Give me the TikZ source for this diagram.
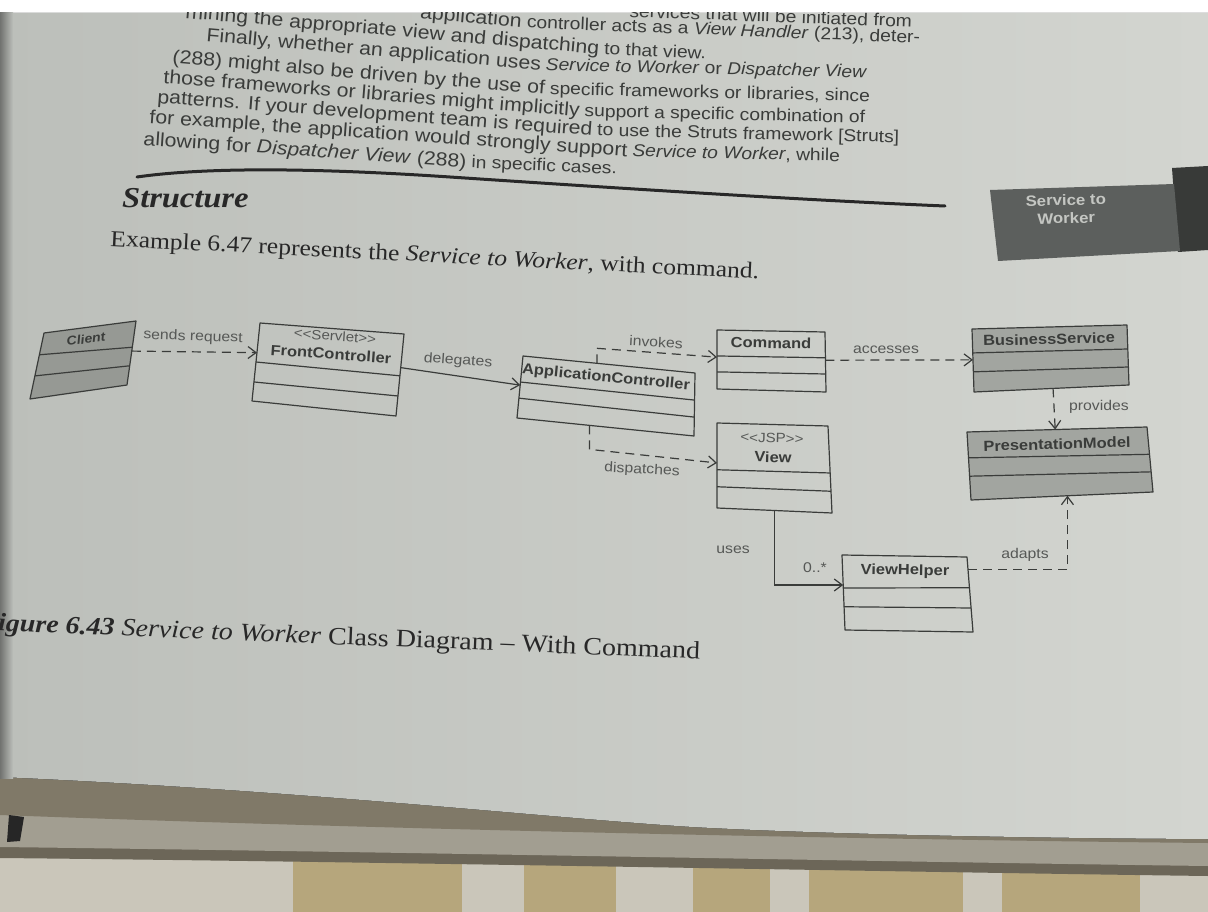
\documentclass[tikz,border=0pt]{standalone}
\usepackage{fontspec}
\setmainfont{Liberation Serif}[FakeStretch=1.12]
\setsansfont{Liberation Sans}[FakeStretch=1.12]
\usetikzlibrary{arrows.meta,calc}

\definecolor{paperL}{RGB}{188,191,186}
\definecolor{paperR}{RGB}{211,213,208}
\definecolor{ink}{RGB}{58,60,58}
\definecolor{inkSoft}{RGB}{86,88,86}
\definecolor{heading}{RGB}{40,40,40}
\definecolor{classGrey}{RGB}{162,165,160}
\definecolor{classGreyDark}{RGB}{150,153,148}
\definecolor{tabGrey}{RGB}{92,95,93}
\definecolor{tabDark}{RGB}{56,58,56}
\definecolor{tabText}{RGB}{196,198,194}
\definecolor{bookEdge}{RGB}{128,121,104}
\definecolor{ridge}{RGB}{162,158,145}
\definecolor{shadowLine}{RGB}{108,102,88}
\definecolor{deskLight}{RGB}{202,198,186}
\definecolor{deskYellow}{RGB}{182,166,124}

% a UML class drawn as a four-cornered outline (the page is photographed in perspective)
\newcommand{\classbox}[6]{%
  \coordinate (#1-tl) at (#2);
  \coordinate (#1-tr) at (#3);
  \coordinate (#1-br) at (#4);
  \coordinate (#1-bl) at (#5);
  \filldraw[classedge, fill=#6] (#1-tl) -- (#1-tr) -- (#1-br) -- (#1-bl) -- cycle;}
% compartment separator, given as fractions down the left and right sides
\newcommand{\compsep}[3]{%
  \draw[classedge] ($(#1-tl)!#2!(#1-bl)$) -- ($(#1-tr)!#3!(#1-br)$);}
\newcommand{\wordgap}{\hspace*{0.28em}}

\tikzset{
  classedge/.style={draw=ink, line width=1.2pt, line join=round},
  conn/.style={draw=ink, line width=1.2pt},
  dep/.style={conn, dash pattern=on 9pt off 6pt},
  openhead/.style={-{Straight Barb[length=8pt,width=12pt]}},
  clsname/.style={font=\sffamily\bfseries\fontsize{14.7}{16}\selectfont, text=ink, inner sep=0},
  stereo/.style={font=\sffamily\fontsize{13.5}{16}\selectfont, text=inkSoft, inner sep=0},
  connlabel/.style={font=\sffamily\fontsize{14.1}{16}\selectfont, text=inkSoft, inner sep=0},
  % the near half of each text line is larger and steeper than the far half
  bodyleft/.style={font=\sffamily\fontsize{19}{22}\selectfont, text=ink, inner sep=0, anchor=base west},
  bodyright/.style={font=\sffamily\fontsize{17.2}{20}\selectfont, text=ink, inner sep=0, anchor=base west},
}

\begin{document}
\begin{tikzpicture}[x=1pt, y=-1pt]
\useasboundingbox (0,0) rectangle (1208,912);
\fill[white] (0,0) rectangle (1208,912);

% desk below the book
\fill[deskLight] (0,830) rectangle (1208,912);
\foreach \a/\b in {293/462, 524/616, 693/770, 809/963, 1002/1140}
  \fill[deskYellow] (\a,830) rectangle (\b,912);

% edge of the book block
\fill[shadowLine] (0,770) -- (1208,770) -- (1208,876) .. controls (900,872) and (400,862) .. (0,858) -- cycle;
\fill[ridge] (0,770) -- (1208,770) -- (1208,866) .. controls (900,862) and (400,852) .. (0,847) -- cycle;
\fill[bookEdge] (0,770) -- (1208,770) -- (1208,843) .. controls (900,840) and (400,830) .. (0,815) -- cycle;
\fill[black!85] (9,815) -- (24,817) -- (20,841) -- (7,842) -- cycle;

% the page
\fill[left color=paperL, right color=paperR] (0,13) -- (1208,13) -- (1208,839)
  .. controls (1000,838) and (800,833) .. (693,827)
  .. controls (550,818) and (300,790) .. (0,777) -- cycle;
\fill[left color=black!40!paperL, right color=paperL] (0,13) rectangle (13,778);

% running text at the top of the page
\begin{scope}
\clip (0,13) rectangle (1208,780);
\node[bodyright, anchor=base east, rotate=-2] (r1b) at (912,27) {services that will be initiated from};
\node[bodyright, anchor=base east, rotate=-2.2] (r2b) at (920,43) {controller acts as a \textit{View Handler} (213), deter-};
\node[bodyleft, anchor=base east, rotate=-5] (r2a) at (r2b.base west) {application\wordgap};
\node[bodyleft, rotate=-5] (r3a) at (185,18) {mining the appropriate view and dispatching};
\node[bodyright, rotate=-2.5] (r3b) at (r3a.base east) {\wordgap to that view.};
\node[bodyleft, rotate=-5] (r4a) at (206,41) {Finally, whether an application uses};
\node[bodyright, rotate=-1.3] (r4b) at (r4a.base east) {\wordgap\textit{Service to Worker} or \textit{Dispatcher View}};
\node[bodyleft, rotate=-4.8] (r5a) at (172,63) {(288) might also be driven by the use of};
\node[bodyright, rotate=-1.3] (r5b) at (r5a.base east) {\wordgap specific frameworks or libraries, since};
\node[bodyleft, rotate=-4.6] (r6a) at (163,83) {those frameworks or libraries might implicitly};
\node[bodyright, rotate=-1.3] (r6b) at (r6a.base east) {\wordgap support a specific combination of};
\node[bodyleft, rotate=-4.3] (r7a) at (157,103) {patterns. If your development team is required};
\node[bodyright, rotate=-1.3] (r7b) at (r7a.base east) {\wordgap to use the Struts framework [Struts]};
\node[bodyleft, rotate=-4] (r8a) at (149,123) {for example, the application would strongly support};
\node[bodyright, rotate=-1.3] (r8b) at (r8a.base east) {\wordgap\textit{Service to Worker}, while};
\node[bodyleft, rotate=-4] (r9a) at (143,145) {allowing for \textit{Dispatcher View} (288)};
\node[bodyright, rotate=-2.5] (r9b) at (r9a.base east) {\wordgap in specific cases.};
\end{scope}

% section rule and heading
\draw[heading, line width=3pt, line cap=round] (137,177) .. controls (200,168) and (300,167) .. (450,177)
  .. controls (600,187) and (800,200) .. (945,206);
\node[font=\rmfamily\bfseries\itshape\fontsize{29}{32}\selectfont, text=heading, anchor=base west,
  inner sep=0, rotate=-0.5] (structure) at (122,207) {Structure};
\node[font=\rmfamily\fontsize{22.8}{26}\selectfont, text=heading, anchor=base west, inner sep=0,
  rotate=-2.9] (example) at (110,246) {Example 6.47 represents the \textit{Service to Worker}, with command.};

% thumb tab
\fill[tabDark] (1172,168) -- (1208,166) -- (1208,250) -- (1178,252) -- cycle;
\fill[tabGrey] (990,190) -- (1174,184) -- (1180,251) -- (998,261) -- cycle;
\node[font=\sffamily\bfseries\fontsize{15}{18}\selectfont, text=tabText, align=center, inner sep=0,
  rotate=1.5] (tab) at (1066,209) {Service to\\Worker};

% class boxes
\classbox{cl}{44,333}{136,321}{127,385}{30,399}{classGreyDark}
\compsep{cl}{0.33}{0.41}\compsep{cl}{0.65}{0.70}
\classbox{fc}{260,323}{404,334}{396,416}{252,401}{none}
\compsep{fc}{0.50}{0.51}\compsep{fc}{0.756}{0.756}
\classbox{ac}{523,356}{695,373}{694,436}{517,418}{none}
\compsep{ac}{0.42}{0.43}\compsep{ac}{0.68}{0.70}
\classbox{cmd}{717,330}{825,332}{826,392}{717,389}{none}
\compsep{cmd}{0.44}{0.43}\compsep{cmd}{0.71}{0.70}
\classbox{bs}{972,329}{1127,325}{1129,385}{974,392}{classGrey}
\compsep{bs}{0.38}{0.40}\compsep{bs}{0.68}{0.70}
\classbox{pm}{967,432}{1147,427}{1153,492}{971,500}{classGrey}
\compsep{pm}{0.38}{0.42}\compsep{pm}{0.65}{0.69}
\classbox{view}{717,423}{828,426}{832,513}{717,508}{none}
\compsep{view}{0.55}{0.54}\compsep{view}{0.75}{0.75}
\classbox{vh}{842,555}{967,557}{973,632}{845,630}{none}
\compsep{vh}{0.44}{0.41}\compsep{vh}{0.69}{0.68}

% class names
\node[clsname, font=\sffamily\bfseries\itshape\fontsize{12.5}{14}\selectfont, rotate=7] (clname) at (86,339) {Client};
\node[stereo, rotate=-4] (fcstereo) at (335,336) {{<}{<}Servlet{>}{>}};
\node[clsname, rotate=-4] (fcname) at (331,354) {FrontController};
\node[clsname, rotate=-5.5] (acname) at (606,378) {ApplicationController};
\node[clsname, rotate=-1] (cmdname) at (771,343) {Command};
\node[clsname, rotate=1.5] (bsname) at (1049,339) {BusinessService};
\node[clsname, rotate=1.6] (pmname) at (1057,444) {PresentationModel};
\node[stereo, rotate=-1.5] (viewstereo) at (772,438) {{<}{<}JSP{>}{>}};
\node[clsname, rotate=-1.5] (viewname) at (773,457) {View};
\node[clsname, rotate=-0.9] (vhname) at (905,571) {ViewHelper};

% attachment points on the class outlines
\coordinate (cl-e) at ($(cl-tr)!0.47!(cl-br)$);
\coordinate (fc-w) at ($(fc-tl)!0.38!(fc-bl)$);
\coordinate (fc-e) at ($(fc-tr)!0.41!(fc-br)$);
\coordinate (ac-w) at ($(ac-tl)!0.47!(ac-bl)$);
\coordinate (ac-n) at ($(ac-tl)!0.43!(ac-tr)$);
\coordinate (ac-s) at ($(ac-bl)!0.41!(ac-br)$);
\coordinate (cmd-w) at ($(cmd-tl)!0.46!(cmd-bl)$);
\coordinate (cmd-e) at ($(cmd-tr)!0.47!(cmd-br)$);
\coordinate (bs-w) at ($(bs-tl)!0.49!(bs-bl)$);
\coordinate (bs-s) at ($(bs-bl)!0.51!(bs-br)$);
\coordinate (pm-n) at ($(pm-tl)!0.49!(pm-tr)$);
\coordinate (pm-s) at ($(pm-bl)!0.53!(pm-br)$);
\coordinate (view-w) at ($(view-tl)!0.47!(view-bl)$);
\coordinate (view-s) at ($(view-bl)!0.5!(view-br)$);
\coordinate (vh-w) at ($(vh-tl)!0.4!(vh-bl)$);
\coordinate (vh-e) at ($(vh-tr)!0.17!(vh-br)$);

% relationships
\draw[dep, openhead] (cl-e) -- (fc-w);
\draw[conn, openhead] (fc-e) -- (ac-w);
\draw[dep, openhead] (ac-n) -- ++(0,-15) -- (cmd-w);
\draw[dep, openhead] (cmd-e) -- (bs-w);
\draw[dep, openhead] (bs-s) -- (pm-n);
\draw[dep, openhead] (ac-s) -- ++(0,24) -- (view-w);
\draw[conn, openhead] (view-s) |- (vh-w);
\draw[dep, openhead] (vh-e) -| (pm-s);

% relationship labels
\node[connlabel, rotate=-2] (lsends) at (193,337) {sends request};
\node[connlabel, rotate=-4] (ldeleg) at (458,361) {delegates};
\node[connlabel, rotate=-3] (linvokes) at (656,342) {invokes};
\node[connlabel] (laccess) at (886,350) {accesses};
\node[connlabel] (lprov) at (1099,407) {provides};
\node[connlabel, rotate=-3] (ldisp) at (642,470) {dispatches};
\node[connlabel] (luses) at (733,550) {uses};
\node[connlabel] (lmult) at (815,568) {0..*};
\node[connlabel] (ladapts) at (1025,555) {adapts};

% figure caption
\node[font=\rmfamily\fontsize{25}{28}\selectfont, text=heading, anchor=base west, inner sep=0,
  rotate=-2.3] (caption) at (-21,630)
  {\textbf{\textit{Figure 6.43}} \textit{Service to Worker} Class Diagram – With Command};
\end{tikzpicture}
\end{document}
